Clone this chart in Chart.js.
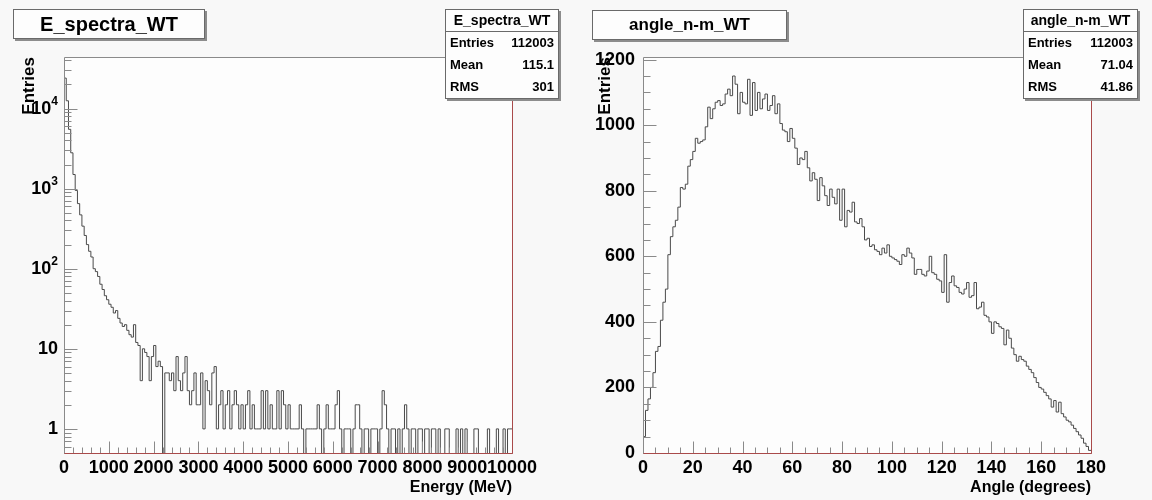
<!DOCTYPE html>
<html>
<head>
<meta charset="utf-8">
<title>E_spectra_WT / angle_n-m_WT</title>
<script src="https://cdn.jsdelivr.net/npm/chart.js"></script>
<style>
  body { margin: 0; background: #f8f8f8; font-family: "Liberation Sans", Arial, sans-serif; }
  #page { position: relative; width: 1152px; height: 500px; overflow: hidden; }
  canvas { position: absolute; top: 0; }
  .title { position: absolute; height: 28px; line-height: 28px; border: 1px solid #6a6a6a;
           background: #fdfdfd; box-shadow: 2px 2px 0 #8c8c8c; font-weight: bold; text-align: center; }
  .stats { position: absolute; border: 1px solid #6a6a6a; background: #fdfdfd;
           box-shadow: 2px 2px 0 #8c8c8c; font-weight: bold; font-size: 13px; }
  .stats .head { text-align: center; font-size: 14px; height: 21px; line-height: 21px; border-bottom: 1px solid #6a6a6a; }
  .stats .row { display: flex; justify-content: space-between; padding: 0 4px; height: 22px; line-height: 22px; }
</style>
</head>
<body>
<div id="page">
  <canvas id="energyChart" width="576" height="500" style="left:0"></canvas>
  <canvas id="angleChart" width="576" height="500" style="left:576px"></canvas>

  <!-- title boxes -->
  <div class="title" style="left:13px;top:9px;width:190px;font-size:20px">E_spectra_WT</div>
  <div class="title" style="left:592px;top:10px;width:193px;font-size:17px">angle_n-m_WT</div>

  <!-- stat boxes -->
  <div class="stats" style="left:445px;top:9px;width:112px">
    <div class="head">E_spectra_WT</div>
    <div class="row"><span>Entries</span><span>112003</span></div>
    <div class="row"><span>Mean</span><span>115.1</span></div>
    <div class="row"><span>RMS</span><span>301</span></div>
  </div>
  <div class="stats" style="left:1023px;top:9px;width:113px">
    <div class="head">angle_n-m_WT</div>
    <div class="row"><span>Entries</span><span>112003</span></div>
    <div class="row"><span>Mean</span><span>71.04</span></div>
    <div class="row"><span>RMS</span><span>41.86</span></div>
  </div>
</div>

<script>
  // ---- energy spectrum: 200 bins of 50 MeV, 0..10000 MeV ----
  const energyBinWidth = 50;
  const energyCounts = [
    24000, 12500, 5500, 2800, 1500, 950, 650, 470, 340, 260,
    200, 165, 140, 100, 92, 80, 64, 55, 46, 41,
    36, 33, 28, 30, 24, 21, 19, 20, 17, 15,
    14, 20, 12, 11, 4, 10, 9, 8, 4, 8,
    11, 6, 7, 6, 0, 5, 5, 4, 5, 3,
    8, 4, 3, 5, 8, 3, 2, 3, 5, 2,
    2, 5, 1, 4, 3, 2, 5, 6, 1, 2,
    3, 1, 2, 3, 1, 2, 3, 2, 1, 2,
    1, 2, 3, 1, 2, 1, 1, 1, 3, 1,
    3, 1, 2, 1, 1, 3, 1, 3, 2, 1,
    2, 1, 1, 1, 1, 2, 1, 0, 1, 1,
    1, 1, 1, 2, 1, 0, 1, 2, 1, 1,
    1, 2, 3, 1, 0, 1, 1, 1, 0, 1,
    2, 2, 1, 0, 1, 1, 0, 1, 1, 1,
    0, 1, 3, 2, 1, 0, 1, 1, 0, 1,
    0, 1, 2, 1, 0, 1, 1, 0, 1, 1,
    0, 1, 1, 0, 1, 1, 0, 1, 0, 0,
    1, 1, 0, 0, 0, 1, 0, 1, 0, 1,
    0, 0, 0, 1, 1, 0, 0, 0, 0, 1,
    0, 0, 0, 1, 0, 0, 1, 0, 1, 1
  ];
  const energyXTicks = [0, 1000, 2000, 3000, 4000, 5000, 6000, 7000, 8000, 9000, 10000];
  const energyYTicks = [1, 10, 100, 1000, 10000];
  const energyYBase = ['1', '10', '10', '10', '10'];
  const energyYExp = ['', '', '2', '3', '4'];

  // ---- angle n-m: 180 bins of 1 degree ----
  const angleBinWidth = 1;
  const angleCounts = [
    50, 130, 165, 200, 245, 310, 325, 405, 460, 500,
    605, 660, 690, 710, 750, 810, 805, 820, 875, 895,
    920, 960, 945, 950, 955, 995, 1055, 1020, 1050, 1070,
    1075, 1060, 1065, 1095, 1110, 1090, 1150, 1125, 1035, 1100,
    1070, 1065, 1140, 1030, 1130, 1045, 1100, 1050, 1080, 1095,
    1045, 1060, 1090, 1035, 1065, 1005, 985, 980, 950, 990,
    960, 930, 880, 900, 895, 920, 870, 830, 855, 835,
    770, 840, 815, 785, 755, 805, 780, 760, 805, 710,
    805, 690, 740, 735, 765, 705, 700, 715, 690, 650,
    655, 630, 635, 620, 615, 605, 625, 610, 635, 600,
    595, 590, 585, 575, 605, 600, 625, 610, 595, 545,
    560, 560, 545, 540, 555, 600, 550, 545, 530, 525,
    490, 605, 460, 520, 540, 510, 505, 490, 485, 500,
    520, 475, 480, 520, 440, 445, 460, 420, 415, 400,
    365, 400, 395, 385, 380, 330, 375, 350, 320, 300,
    280, 295, 285, 280, 265, 255, 245, 230, 215, 200,
    195, 185, 175, 165, 140, 160, 125, 155, 120, 110,
    100, 95, 85, 75, 65, 55, 45, 30, 20, 8
  ];
  const angleXTicks = [0, 20, 40, 60, 80, 100, 120, 140, 160, 180];
  const angleYTicks = [0, 200, 400, 600, 800, 1000, 1200];

  const tickFont = { family: '"Liberation Sans", Arial, sans-serif', size: 18, weight: 'bold' };
  const titleFont = { family: '"Liberation Sans", Arial, sans-serif', size: 16, weight: 'bold' };
  const lineColor = '#4a4a4a';

  // histogram outline points: left bin edges + closing right edge
  function histPoints(counts, width, zeroAs) {
    const pts = counts.map((c, i) => ({ x: i * width, y: (c === 0 && zeroAs !== undefined) ? zeroAs : c }));
    const last = pts[pts.length - 1].y;
    pts.push({ x: counts.length * width, y: last });
    return pts;
  }

  function steps(from, to, step) {
    const out = [];
    for (let v = from; v <= to + 1e-9; v += step) out.push(v);
    return out;
  }

  const fixedTicks = list => s => { s.ticks = list.map(v => ({ value: v })); };

  // ROOT-like frame: inward ticks, grey top/left, red right/bottom
  function rootFrame(cfg) {
    return {
      id: 'rootFrame',
      beforeDraw(chart) {
        const { ctx, chartArea: a } = chart;
        ctx.save();
        ctx.fillStyle = '#fdfdfd';
        ctx.fillRect(a.left, a.top, a.right - a.left, a.bottom - a.top);
        ctx.restore();
      },
      afterDraw(chart) {
        const { ctx, chartArea: a, scales: { x, y } } = chart;
        const L = Math.round(a.left) + 0.5, R = Math.round(a.right) + 0.5;
        const T = Math.round(a.top) + 0.5, B = Math.round(a.bottom) + 0.5;
        ctx.save();
        ctx.lineWidth = 1;
        ctx.strokeStyle = '#8a8a8a';
        ctx.beginPath();
        cfg.xMinor.forEach(v => { const p = Math.round(x.getPixelForValue(v)) + 0.5; ctx.moveTo(p, B); ctx.lineTo(p, B - 6); });
        cfg.xMajor.forEach(v => { const p = Math.round(x.getPixelForValue(v)) + 0.5; ctx.moveTo(p, B); ctx.lineTo(p, B - 12); });
        cfg.yMinor.forEach(v => { const p = Math.round(y.getPixelForValue(v)) + 0.5; ctx.moveTo(L, p); ctx.lineTo(L + 7, p); });
        cfg.yMajor.forEach(v => { const p = Math.round(y.getPixelForValue(v)) + 0.5; ctx.moveTo(L, p); ctx.lineTo(L + 13, p); });
        ctx.stroke();

        // frame lines
        ctx.strokeStyle = '#8a8a8a';
        ctx.beginPath();
        ctx.moveTo(L, B); ctx.lineTo(L, T); ctx.lineTo(R, T);
        ctx.stroke();
        ctx.strokeStyle = '#a94a4a';
        ctx.beginPath();
        ctx.moveTo(R, T); ctx.lineTo(R, B); ctx.lineTo(L, B);
        ctx.stroke();

        // log-axis labels with superscripts
        if (cfg.logLabels) {
          ctx.fillStyle = '#000';
          ctx.textBaseline = 'middle';
          ctx.textAlign = 'left';
          cfg.logLabels.values.forEach((v, i) => {
            const p = y.getPixelForValue(v);
            ctx.font = 'bold 12px "Liberation Sans", Arial, sans-serif';
            const ew = cfg.logLabels.exps[i] ? ctx.measureText(cfg.logLabels.exps[i]).width : 0;
            ctx.font = 'bold 18px "Liberation Sans", Arial, sans-serif';
            const bw = ctx.measureText(cfg.logLabels.bases[i]).width;
            const right = a.left - 6;
            ctx.fillText(cfg.logLabels.bases[i], right - ew - bw, p);
            if (ew) {
              ctx.font = 'bold 12px "Liberation Sans", Arial, sans-serif';
              ctx.fillText(cfg.logLabels.exps[i], right - ew, p - 7);
            }
          });
        }
        ctx.restore();
      }
    };
  }

  // log minor ticks 2..9 x decade inside the range
  const energyYMin = 0.5, energyYMax = 44000;
  const energyYMinor = [];
  [0.1, 1, 10, 100, 1000, 10000].forEach(d => {
    for (let k = 2; k <= 9; k++) {
      const v = k * d;
      if (v >= energyYMin && v <= energyYMax) energyYMinor.push(v);
    }
  });

  // Energy spectrum (log y)
  new Chart(document.getElementById('energyChart'), {
    type: 'line',
    data: {
      datasets: [{
        data: histPoints(energyCounts, energyBinWidth, 0.1),
        stepped: true,
        borderColor: lineColor,
        borderWidth: 1,
        pointRadius: 0,
        fill: false
      }]
    },
    options: {
      responsive: false,
      animation: false,
      events: [],
      layout: { padding: { left: 0, right: 64, top: 57, bottom: 0 } },
      plugins: { legend: { display: false }, tooltip: { enabled: false } },
      scales: {
        x: {
          type: 'linear', min: 0, max: 10000,
          grid: { display: false, drawTicks: false },
          border: { display: false },
          afterBuildTicks: fixedTicks(energyXTicks),
          ticks: { autoSkip: false, maxRotation: 0, padding: 4, color: '#000', font: tickFont,
                   callback: v => String(v) },
          title: { display: true, text: 'Energy (MeV)', align: 'end', color: '#000', font: titleFont,
                   padding: { top: 0, bottom: 3 } },
          afterFit: s => { s.height = 47; }
        },
        y: {
          type: 'logarithmic', min: energyYMin, max: energyYMax,
          grid: { display: false, drawTicks: false },
          border: { display: false },
          ticks: { display: false },
          title: { display: true, text: 'Entries', align: 'end', color: '#000', font: { ...titleFont, size: 17 },
                   padding: { top: 19, bottom: 0 } },
          afterFit: s => { s.width = 64; }
        }
      }
    },
    plugins: [rootFrame({
      xMajor: energyXTicks,
      xMinor: steps(0, 10000, 200),
      yMajor: energyYTicks,
      yMinor: energyYMinor,
      logLabels: { values: energyYTicks, bases: energyYBase, exps: energyYExp }
    })]
  });

  // Angle distribution (linear y)
  new Chart(document.getElementById('angleChart'), {
    type: 'line',
    data: {
      datasets: [{
        data: histPoints(angleCounts, angleBinWidth),
        stepped: true,
        borderColor: lineColor,
        borderWidth: 1,
        pointRadius: 0,
        fill: false
      }]
    },
    options: {
      responsive: false,
      animation: false,
      events: [],
      layout: { padding: { left: 0, right: 61, top: 57, bottom: 0 } },
      plugins: { legend: { display: false }, tooltip: { enabled: false } },
      scales: {
        x: {
          type: 'linear', min: 0, max: 180,
          grid: { display: false, drawTicks: false },
          border: { display: false },
          afterBuildTicks: fixedTicks(angleXTicks),
          ticks: { autoSkip: false, maxRotation: 0, padding: 4, color: '#000', font: tickFont,
                   callback: v => String(v) },
          title: { display: true, text: 'Angle (degrees)', align: 'end', color: '#000', font: titleFont,
                   padding: { top: 0, bottom: 3 } },
          afterFit: s => { s.height = 47; }
        },
        y: {
          type: 'linear', min: 0, max: 1208,
          grid: { display: false, drawTicks: false },
          border: { display: false },
          afterBuildTicks: fixedTicks(angleYTicks),
          ticks: { autoSkip: false, padding: 8, color: '#000', font: tickFont,
                   callback: v => String(v) },
          title: { display: true, text: 'Entries', align: 'end', color: '#000', font: { ...titleFont, size: 17 },
                   padding: { top: 19, bottom: 0 } },
          afterFit: s => { s.width = 67; }
        }
      }
    },
    plugins: [rootFrame({
      xMajor: angleXTicks,
      xMinor: steps(0, 180, 5),
      yMajor: angleYTicks,
      yMinor: steps(0, 1200, 50)
    })]
  });
</script>
</body>
</html>
